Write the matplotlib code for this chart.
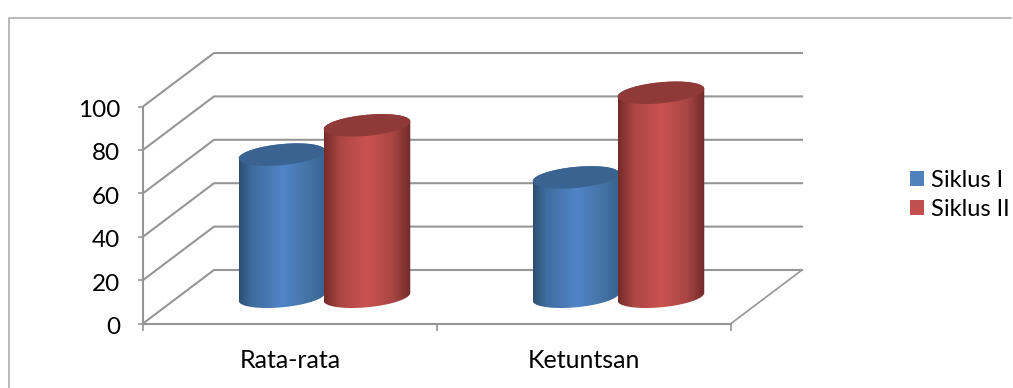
import numpy as np
import matplotlib
matplotlib.use('Agg')
import matplotlib.pyplot as plt
from matplotlib.colors import LinearSegmentedColormap
from matplotlib.lines import Line2D
from matplotlib.patches import Patch, Polygon
from matplotlib.transforms import ScaledTranslation

categories = ['Rata-rata', 'Ketuntsan']
series_names = ['Siklus I', 'Siklus II']
siklus_1 = [65.5, 55]
siklus_2 = [79, 94]
y_ticks = [0, 20, 40, 60, 80, 100]

W, H = 1013, 388
GREY = '#969696'
PX_X = 294.0  # pixels per category
PX_Y = 2.17  # pixels per y unit
DEPTH_X = 71 / PX_X
DEPTH_Y = 53.5 / PX_Y

plt.rcParams['font.family'] = ['Lato', 'DejaVu Sans']

fig = plt.figure(figsize=(W / 100, H / 100), dpi=100)
ax = fig.add_axes([143 / W, 1 - 323.5 / H, 588 / W, 217 / H])
ax.set_xlim(0, 2)
ax.set_ylim(0, 100)

# outer chart frame
fig.add_artist(Line2D([9 / W, 9 / W, 1011 / W], [0, 1 - 17.5 / H, 1 - 17.5 / H],
                      color='#a6a6a6', lw=1.1))


def ellipse(cx, cy, t):
    # tilted ellipse, sized in pixels, returned in data units
    a, b, tilt = 43.5, 10.5, np.radians(5.5)
    px = a * np.cos(t) * np.cos(tilt) - b * np.sin(t) * np.sin(tilt)
    py = a * np.cos(t) * np.sin(tilt) + b * np.sin(t) * np.cos(tilt)
    return cx + px / PX_X, cy + py / PX_Y


def cylinder(x, value, cmap, top_color, z):
    base = DEPTH_Y / 2
    top = base + value
    cx = x + DEPTH_X / 2
    t_low = np.linspace(np.pi, 2 * np.pi, 60)
    t_top = np.linspace(0, np.pi, 60)
    xs_low, ys_low = ellipse(cx, base, t_low)
    xs_top, ys_top = ellipse(cx, top, t_top)
    outline = np.column_stack([np.r_[xs_low, xs_top], np.r_[ys_low, ys_top]])
    clip = Polygon(outline, closed=True, transform=ax.transData, fc='none', ec='none')
    ax.add_patch(clip)
    im = ax.imshow(np.linspace(0, 1, 256)[None, :], cmap=cmap, aspect='auto', zorder=z,
                   extent=(outline[:, 0].min(), outline[:, 0].max(),
                           outline[:, 1].min(), outline[:, 1].max()))
    # the image would stop at the axes top otherwise
    im.set_clip_box(fig.bbox)
    im.set_clip_path(clip)
    xs, ys = ellipse(cx, top, np.linspace(0, 2 * np.pi, 120))
    ax.fill(xs, ys, color=top_color, lw=0, zorder=z + 0.1, clip_on=False)


blue_map = LinearSegmentedColormap.from_list(
    'blue', [(0, '#2c4f72'), (0.15, '#3f6c9f'), (0.5, '#5085c8'), (0.8, '#4573a5'), (1, '#38628f')])
red_map = LinearSegmentedColormap.from_list(
    'red', [(0, '#742b29'), (0.18, '#ab4644'), (0.5, '#cb5350'), (0.8, '#a84543'), (1, '#702b29')])

# back wall gridlines and side wall
for v in y_ticks:
    ax.plot([0, DEPTH_X, 2 + DEPTH_X], [v, v + DEPTH_Y, v + DEPTH_Y],
            color=GREY, lw=1.5, clip_on=False, zorder=1)
ax.plot([2, 2 + DEPTH_X], [0, DEPTH_Y], color=GREY, lw=1.2, clip_on=False, zorder=1)

for i in range(len(categories)):
    cylinder(i + 0.352, siklus_1[i], blue_map, '#3b6391', 3)
    cylinder(i + 0.641, siklus_2[i], red_map, '#8f3a38', 4)

ax.set_xlim(0, 2)
ax.set_ylim(0, 100)

ax.patch.set_alpha(0)
for side in ['top', 'right']:
    ax.spines[side].set_visible(False)
for side in ['left', 'bottom']:
    ax.spines[side].set_color(GREY)
    ax.spines[side].set_linewidth(1.5)

ax.set_yticks(y_ticks)
ax.set_xticks(range(len(categories) + 1))
ax.set_xticklabels([])
ax.set_xticks(np.arange(len(categories)) + 0.5, minor=True)
ax.set_xticklabels(categories, minor=True, fontsize=18)
ax.tick_params(axis='y', length=3.8, width=1.2, color=GREY, pad=12.5, labelsize=17.5, labelcolor='black')
ax.tick_params(axis='x', which='major', length=5, width=1.2, color=GREY)
ax.tick_params(axis='x', which='minor', length=0, pad=18, labelcolor='black')

nudge = ScaledTranslation(0, -2 / 100, fig.dpi_scale_trans)
for label in ax.get_yticklabels():
    label.set_transform(label.get_transform() + nudge)

handles = [Patch(fc='#4f81bd', ec='none'), Patch(fc='#c0504d', ec='none')]
fig.legend(handles, series_names, loc='center left', bbox_to_anchor=(905 / W, 1 - 195 / H),
           frameon=False, fontsize=17, handlelength=0.62, handleheight=0.62,
           handletextpad=0.3, labelspacing=0.35, borderpad=0.2, borderaxespad=0)

fig.savefig('out.png', dpi=100)
